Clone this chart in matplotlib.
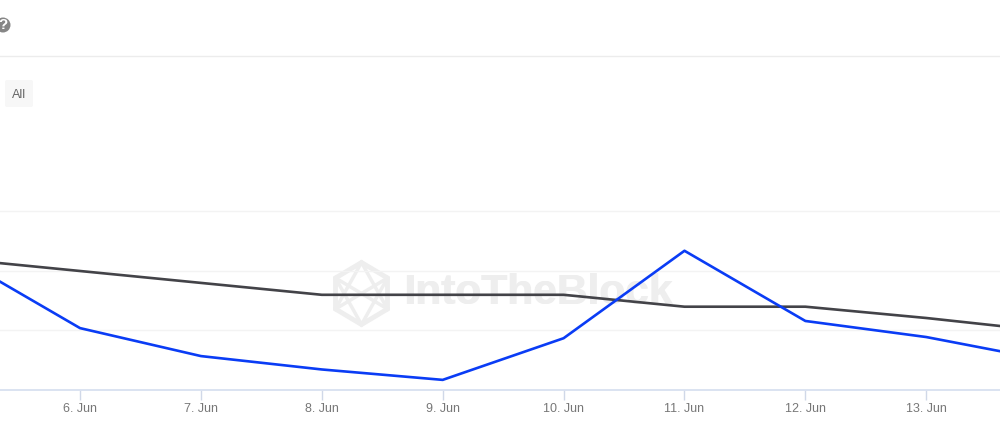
import matplotlib
matplotlib.use('Agg')
import matplotlib.pyplot as plt
from matplotlib.patches import Circle, FancyBboxPatch, Polygon
from matplotlib.lines import Line2D

W, H = 1000, 422

days = [5, 6, 7, 8, 9, 10, 11, 12, 13, 14]
tick_days = [6, 7, 8, 9, 10, 11, 12, 13]
tick_labels = ['6. Jun', '7. Jun', '8. Jun', '9. Jun', '10. Jun', '11. Jun', '12. Jun', '13. Jun']
blue_vals = [2.22, 1.04, 0.57, 0.345, 0.17, 0.87, 2.34, 1.16, 0.89, 0.50]
dark_vals = [2.20, 2.00, 1.80, 1.60, 1.60, 1.60, 1.40, 1.40, 1.21, 0.99]
grid_vals = [1, 2, 3.01]

plt.rcParams['font.family'] = ['Liberation Sans', 'DejaVu Sans']


def px(x, y):
    # screenshot pixels to figure fractions
    return x / W, 1 - y / H


fig = plt.figure(figsize=(10, 4.22), dpi=100)

# watermark gets its own axes under the chart
bg = fig.add_axes([0, 0, 1, 1], zorder=0)
bg.set_xlim(0, W)
bg.set_ylim(H, 0)
bg.axis('off')
wm = '#eeeeee'
bg.text(403, 293, 'IntoTheBlock', fontsize=30.6, fontweight='bold', color=wm, ha='left', va='center')
bg.text(403.7, 293, 'IntoTheBlock', fontsize=30.6, fontweight='bold', color=wm, ha='left', va='center')
cx, cy, rx, ry = 361.5, 293.5, 26, 31
hex_pts = [(cx, cy - ry), (cx + rx, cy - ry / 2), (cx + rx, cy + ry / 2),
           (cx, cy + ry), (cx - rx, cy + ry / 2), (cx - rx, cy - ry / 2)]
bg.add_patch(Polygon(hex_pts, closed=True, fill=False, ec=wm, lw=3.5))
for a, b in [(1, 4), (2, 5), (0, 2), (0, 4), (3, 1), (3, 5)]:
    bg.plot([hex_pts[a][0], hex_pts[b][0]], [hex_pts[a][1], hex_pts[b][1]], color=wm, lw=2.5)

ax = fig.add_axes([0, 0, 1, 1], zorder=1)
ax.set_xlim(5.338, 13.61)
ax.set_ylim(-0.538, 6.555)
ax.patch.set_alpha(0)
for s in ax.spines.values():
    s.set_visible(False)

# grid
for g in grid_vals:
    ax.axhline(g, color='#f3f3f3', lw=1, zorder=1)
fig.add_artist(Line2D([0, 1], [px(0, 56)[1]] * 2, color='#ececec', lw=1, transform=fig.transFigure))

ax.axhline(0, color='#d8e0f0', lw=1.3, zorder=2)
ax.set_xticks(tick_days)
ax.set_xticklabels(tick_labels)
ax.set_yticks([])
ax.tick_params(axis='x', direction='out', length=7.5, width=1, color='#d0d8e8', pad=1.6,
               labelsize=9, labelcolor='#777777')
ax.spines['bottom'].set_position(('data', 0))

ax.plot(days, dark_vals, color='#434348', lw=1.9, zorder=3)
ax.plot(days, blue_vals, color='#0a3cf5', lw=1.9, zorder=4)

# range button
fig.add_artist(FancyBboxPatch((5, H - 107), 28, 27, boxstyle='round,pad=0,rounding_size=2',
                              fc='#f7f7f7', ec='none', transform=None))
fig.text(*px(19, 95.5), 'All', fontsize=9, color='#666666', ha='center', va='center')

# help icon, cut off by the left edge
fig.add_artist(Circle((3, H - 25), 7.5, fc='#868686', ec='none', transform=None))
fig.text(*px(3, 25), '?', fontsize=11, fontweight='bold', color='white', ha='center', va='center')

fig.savefig('out.png', dpi=100)
